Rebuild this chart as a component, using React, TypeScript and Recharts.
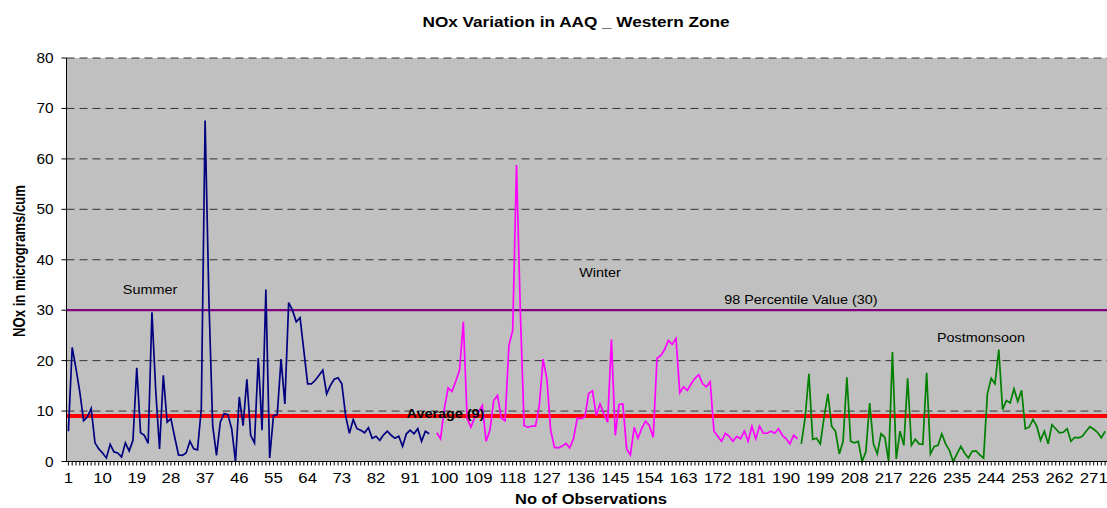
import React from 'react';
import { LineChart, Line, XAxis, YAxis, CartesianGrid, ReferenceLine, ReferenceDot } from 'recharts';

// ---- data (NOx, micrograms/cum) ----
const summerStart = 1;
const summer = [
  6.0, 22.6, 18.4, 13.8, 8.1, 8.8, 10.5, 3.7, 2.5, 1.7,
  0.7, 3.4, 1.9, 1.7, 0.9, 3.7, 2.1, 4.2, 18.6, 5.7,
  5.2, 3.6, 29.6, 14.0, 2.5, 17.1, 7.8, 8.5, 4.8, 1.3,
  1.2, 1.7, 4.0, 2.5, 2.3, 10.5, 67.6, 32.0, 7.1, 1.2,
  7.8, 9.5, 9.3, 6.5, 0.0, 12.8, 7.1, 16.3, 5.2, 3.7,
  20.5, 6.2, 34.1, 0.7, 9.1, 9.3, 20.3, 11.4, 31.5, 30.0,
  27.7, 28.5, 22.0, 15.4, 15.4, 16.1, 17.1, 18.1, 13.4, 15.1,
  16.3, 16.6, 15.4, 9.1, 5.6, 8.3, 6.5, 6.2, 5.7, 6.7,
  4.6, 5.0, 4.2, 5.3, 6.0, 5.2, 4.6, 5.0, 3.0, 5.5,
  6.2, 5.5, 6.5, 4.0, 6.0, 5.5,
];
const winterStart = 98;
const winter = [
  5.7, 4.5, 10.5, 14.6, 13.9, 15.9, 18.1, 27.7, 8.5, 6.8,
  8.8, 9.8, 11.1, 4.0, 6.2, 12.1, 13.1, 8.6, 8.1, 23.0,
  26.0, 58.8, 30.0, 7.1, 6.8, 7.0, 7.0, 11.1, 20.3, 16.4,
  6.2, 2.8, 2.7, 3.0, 3.6, 2.7, 4.5, 8.6, 8.5, 8.8,
  13.5, 14.0, 9.1, 11.4, 9.5, 7.8, 24.2, 5.2, 11.3, 11.4,
  2.5, 1.3, 6.8, 4.6, 6.6, 8.0, 7.1, 4.8, 20.5, 21.0,
  22.2, 24.0, 23.2, 24.4, 13.6, 14.8, 14.1, 15.4, 16.5, 17.2,
  15.4, 14.8, 15.8, 6.0, 5.0, 4.0, 5.6, 5.0, 4.0, 5.0,
  4.5, 6.0, 4.0, 7.0, 4.5, 7.0, 5.6, 5.6, 6.0, 5.6,
  6.5, 5.2, 4.5, 3.5, 5.2, 4.5,
];
const postmonsoonStart = 194;
const postmonsoon = [
  3.5, 8.6, 17.4, 4.4, 4.6, 3.5, 8.8, 13.4, 7.0, 6.0,
  1.5, 4.0, 16.7, 4.0, 3.7, 4.0, 0.0, 1.9, 11.6, 3.5,
  1.5, 5.5, 4.8, 0.0, 21.7, 0.5, 6.0, 3.2, 16.5, 3.2,
  4.4, 3.5, 3.4, 17.6, 1.5, 3.0, 3.2, 5.5, 3.5, 2.2,
  0.0, 1.5, 3.0, 1.7, 0.7, 2.0, 2.1, 1.3, 0.7, 13.4,
  16.5, 15.4, 22.2, 10.3, 12.1, 11.6, 14.4, 11.9, 14.1, 6.5,
  6.8, 8.3, 7.0, 4.2, 6.0, 3.5, 7.3, 6.5, 5.7, 5.8,
  6.5, 4.0, 4.8, 4.7, 5.0, 6.0, 6.9, 6.4, 5.8, 4.7,
  6.0,
];
const totalObs = 274;
const xTickLabels = [1, 10, 19, 28, 37, 46, 55, 64, 73, 82, 91, 100, 109, 118, 127, 136, 145, 154, 163, 172, 181, 190, 199, 208, 217, 226, 235, 244, 253, 262, 271];
const yTicks = [0, 10, 20, 30, 40, 50, 60, 70, 80];
const averageValue = 9;
const percentileValue = 30;
const annotations = [
  { text: 'Summer', obs: 22.5, value: 34.0, bold: false },
  { text: 'Winter', obs: 141.0, value: 37.4, bold: false },
  { text: 'Postmonsoon', obs: 241.3, value: 24.5, bold: false },
  { text: '98 Percentile Value (30)', obs: 193.9, value: 32.1, bold: false },
  { text: 'Average (9)', obs: 100.3, value: 9.5, bold: true },
];

const FONT = '"Liberation Sans", Arial, Helvetica, sans-serif';
const W = 1107;
const H = 508;

const pick = (arr: number[], start: number, obs: number) => {
  const k = obs - start;
  return k >= 0 && k < arr.length ? arr[k] : null;
};
const data = Array.from({ length: totalObs }, (_, i) => {
  const obs = i + 1;
  return {
    obs,
    summer: pick(summer, summerStart, obs),
    winter: pick(winter, winterStart, obs),
    postmonsoon: pick(postmonsoon, postmonsoonStart, obs),
  };
});
const allObs = data.map((d) => d.obs);
const labelSet = new Set(xTickLabels);

const renderXTick = (props: any) => {
  const { x, y, payload } = props;
  if (!labelSet.has(payload.value)) return <g />;
  return (
    <text x={0} y={0} transform={`translate(${x},${y + 17}) scale(1.2,1)`} textAnchor="middle" fontSize={14} fontFamily={FONT} fill="#000">
      {payload.value}
    </text>
  );
};

const renderYTick = (props: any) => {
  const { x, y, payload } = props;
  return (
    <text x={0} y={0} transform={`translate(${x - 8},${y + 5}) scale(1.1,1)`} textAnchor="end" fontSize={14} fontFamily={FONT} fill="#000">
      {payload.value}
    </text>
  );
};

const makeLabel = (a: { text: string; bold: boolean }) => (props: any) => {
  const vb = props.viewBox || {};
  const cx = (vb.x ?? props.x ?? 0) + (vb.width ?? 0) / 2;
  const cy = (vb.y ?? props.y ?? 0) + (vb.height ?? 0) / 2;
  return (
    <text x={0} y={0} transform={`translate(${cx},${cy + 4.3}) scale(1.2,1)`} textAnchor="middle" fontSize={12} fontWeight={a.bold ? 'bold' : 'normal'} fontFamily={FONT} fill="#000">
      {a.text}
    </text>
  );
};

export default function App() {
  return (
    <div style={{ position: 'absolute', left: 0, top: 0, width: W, height: H, background: '#fff', overflow: 'hidden' }}>
      <LineChart width={W} height={H} data={data} margin={{ top: 58, right: 0, bottom: 0, left: 0 }}>
        <CartesianGrid horizontal vertical={false} fill="#C0C0C0" fillOpacity={1} stroke="#333" strokeDasharray="8 5" />
        <XAxis
          type="number"
          dataKey="obs"
          domain={[0.5, totalObs + 0.5]}
          allowDataOverflow
          ticks={allObs}
          interval={0}
          tickSize={4}
          tickMargin={0}
          height={46.5}
          axisLine={{ stroke: '#000', strokeWidth: 1 }}
          tickLine={{ stroke: '#000', strokeWidth: 1 }}
          tick={renderXTick}
        />
        <YAxis
          type="number"
          domain={[0, 80]}
          ticks={yTicks}
          interval={0}
          width={66.5}
          tickSize={5}
          tickMargin={0}
          axisLine={{ stroke: '#000', strokeWidth: 1 }}
          tickLine={{ stroke: '#000', strokeWidth: 1 }}
          tick={renderYTick}
        />
        <ReferenceLine y={percentileValue} stroke="#800080" strokeWidth={2.2} />
        <ReferenceLine y={averageValue} stroke="#FF0000" strokeWidth={4} />
        <Line type="linear" dataKey="summer" stroke="#000080" strokeWidth={1.7} dot={false} isAnimationActive={false} connectNulls={false} />
        <Line type="linear" dataKey="winter" stroke="#FF00FF" strokeWidth={1.7} dot={false} isAnimationActive={false} connectNulls={false} />
        <Line type="linear" dataKey="postmonsoon" stroke="#008000" strokeWidth={1.7} dot={false} isAnimationActive={false} connectNulls={false} />
        {annotations.map((a) => (
          <ReferenceDot key={a.text} x={a.obs} y={a.value} r={0} fill="none" stroke="none" label={makeLabel(a)} />
        ))}
      </LineChart>
      <svg width={W} height={H} style={{ position: 'absolute', left: 0, top: 0, pointerEvents: 'none' }}>
        <text x={576} y={26.5} textAnchor="middle" fontSize={14} fontWeight="bold" fontFamily={FONT} fill="#000" textLength={307} lengthAdjust="spacingAndGlyphs">
          NOx Variation in AAQ _ Western Zone
        </text>
        <text x={591} y={504} textAnchor="middle" fontSize={14} fontWeight="bold" fontFamily={FONT} fill="#000" textLength={152} lengthAdjust="spacingAndGlyphs">
          No of Observations
        </text>
        <text x={0} y={0} transform="translate(19.7,261) scale(1.2,1) rotate(-90)" textAnchor="middle" dominantBaseline="central" fontSize={13} fontWeight="bold" fontFamily={FONT} fill="#000" textLength={152} lengthAdjust="spacingAndGlyphs">
          NOx in micrograms/cum
        </text>
      </svg>
    </div>
  );
}
